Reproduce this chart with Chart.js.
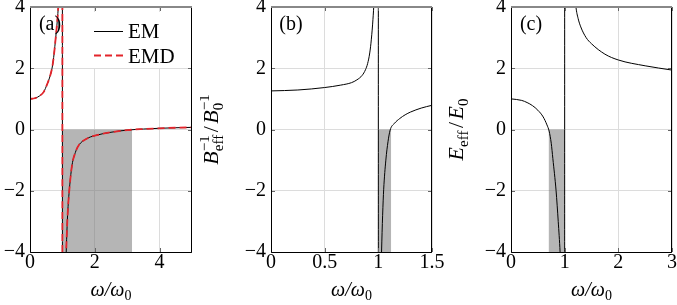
<!DOCTYPE html>
<html lang="en">
<head>
<meta charset="UTF-8" />
<title>Effective parameters vs frequency</title>
<script src="https://cdn.jsdelivr.net/npm/chart.js@4.4.0/dist/chart.umd.min.js"></script>
<style>
  body { margin: 0; background: #fff; }
  .panel { position: absolute; top: 0; height: 305px; }
  #wrapA { left: 0; width: 200px; }
  #wrapB { left: 200px; width: 252px; }
  #wrapC { left: 440px; width: 237px; }
</style>
</head>
<body>
<div class="panel" id="wrapA"><canvas id="chartA"></canvas></div>
<div class="panel" id="wrapB"><canvas id="chartB"></canvas></div>
<div class="panel" id="wrapC"><canvas id="chartC"></canvas></div>

<script>
// shared y axis
const yTicks = [-4, -2, 0, 2, 4];
const poleX = [1, 1];
const poleY = [-4, 4];

// (a) B_eff^-1 / B_0^-1, EM and EMD
const aTicksX = [0, 2, 4];
const aEmLeftX = [0, 0.15, 0.3, 0.42, 0.53, 0.6, 0.68, 0.73, 0.78, 0.83, 0.87, 0.9];
const aEmLeftY = [1, 1.02, 1.1, 1.22, 1.48, 1.68, 2.0, 2.35, 2.85, 3.4, 3.95, 4.6];
const aEmRightX = [1.1, 1.13, 1.16, 1.22, 1.3, 1.4, 1.5, 1.75, 2, 2.5, 3, 3.5, 4, 4.5, 5];
const aEmRightY = [-4.6, -3.6, -2.8, -1.9, -1.15, -0.75, -0.52, -0.3, -0.2, -0.09, -0.02, 0.015, 0.04, 0.057, 0.07];
const aEmdLeftY = [1, 1.02, 1.1, 1.22, 1.48, 1.68, 2.0, 2.35, 2.85, 3.4, 3.95, 4.6];
const aEmdRightY = [-4.6, -3.6, -2.8, -1.9, -1.15, -0.75, -0.52, -0.3, -0.2, -0.09, -0.02, 0.015, 0.04, 0.057, 0.07];
const aShadeX = [1, 3.15];

// (b) B_eff^-1 / B_0^-1
const bTicksX = [0, 0.5, 1, 1.5];
const bLeftX = [0, 0.25, 0.5, 0.65, 0.75, 0.8, 0.85, 0.88, 0.9, 0.92, 0.935, 0.95, 0.96, 0.97];
const bLeftY = [1.26, 1.29, 1.37, 1.45, 1.53, 1.62, 1.77, 1.95, 2.15, 2.5, 2.95, 3.6, 4.2, 5.0];
const bRightX = [1.02, 1.03, 1.04, 1.05, 1.07, 1.09, 1.11, 1.15, 1.2, 1.25, 1.3, 1.4, 1.5];
const bRightY = [-5.5, -4, -2.8, -1.95, -1.0, -0.4, -0.02, 0.2, 0.36, 0.48, 0.57, 0.7, 0.79];
const bShadeX = [1, 1.12];

// (c) E_eff / E_0
const cTicksX = [0, 1, 2, 3];
const cLeftX = [0, 0.2, 0.3, 0.4, 0.5, 0.6, 0.67, 0.71, 0.75, 0.78, 0.84, 0.88, 0.915, 0.935];
const cLeftY = [1, 0.95, 0.88, 0.78, 0.63, 0.41, 0.15, -0.05, -0.45, -0.95, -2.0, -3.0, -4.0, -4.8];
const cRightX = [1.19, 1.21, 1.25, 1.3, 1.4, 1.5, 1.75, 2, 2.5, 3];
const cRightY = [4.4, 4.0, 3.63, 3.35, 3.0, 2.8, 2.46, 2.27, 2.08, 1.94];
const cShadeX = [0.7, 1];

const FONT = '"Liberation Serif", "DejaVu Serif", serif';
const RED = '#e3242b';

function pts(xs, ys) {
  return xs.map((x, i) => ({ x: x, y: ys[i] }));
}

function curve(xs, ys, extra) {
  return Object.assign({
    data: pts(xs, ys),
    borderColor: '#000',
    borderWidth: 1,
    pointRadius: 0,
    fill: false,
    cubicInterpolationMode: 'monotone',
    order: 2
  }, extra || {});
}

function shade(xs) {
  return {
    data: pts(xs, xs.map(() => 0)),
    borderWidth: 0,
    borderColor: 'rgba(0,0,0,0)',
    backgroundColor: 'rgba(120,120,120,0.55)',
    pointRadius: 0,
    fill: 'start',
    order: 5
  };
}

// draws text made of groups; items inside a group share the same x (sup + sub)
function drawRich(ctx, groups, x, y, rot) {
  const fontOf = (p) => (p.italic ? 'italic ' : '') + p.size + 'px ' + FONT;
  let total = 0;
  groups.forEach(g => {
    g.w = 0;
    g.forEach(p => {
      ctx.font = fontOf(p);
      g.w = Math.max(g.w, ctx.measureText(p.t).width + (p.gap || 0));
    });
    total += g.w;
  });
  ctx.save();
  ctx.translate(x, y);
  ctx.rotate(rot || 0);
  ctx.fillStyle = '#000';
  ctx.textBaseline = 'alphabetic';
  ctx.textAlign = 'left';
  let cx = -total / 2;
  groups.forEach(g => {
    g.forEach(p => {
      ctx.font = fontOf(p);
      ctx.fillText(p.t, cx + (p.gap || 0) / 2, p.dy || 0);
    });
    cx += g.w;
  });
  ctx.restore();
}

const xTitle = [
  [{ t: 'ω/ω', size: 20, italic: true }],
  [{ t: '0', size: 14, dy: 4 }]
];

const framePlugin = {
  id: 'frame',
  afterDatasetsDraw(chart) {
    const { ctx, chartArea: a, scales } = chart;
    ctx.save();
    // small inward ticks like pgfplots
    ctx.strokeStyle = '#666';
    ctx.lineWidth = 1;
    ctx.beginPath();
    scales.x.ticks.forEach(t => {
      const px = Math.round(scales.x.getPixelForValue(t.value)) + 0.5;
      ctx.moveTo(px, a.bottom); ctx.lineTo(px, a.bottom - 4);
      ctx.moveTo(px, a.top); ctx.lineTo(px, a.top + 4);
    });
    scales.y.ticks.forEach(t => {
      const py = Math.round(scales.y.getPixelForValue(t.value)) + 0.5;
      ctx.moveTo(a.left, py); ctx.lineTo(a.left + 4, py);
      ctx.moveTo(a.right, py); ctx.lineTo(a.right - 4, py);
    });
    ctx.stroke();
    // frame
    ctx.strokeStyle = '#000';
    ctx.beginPath();
    ctx.moveTo(a.left + 0.5, a.top);
    ctx.lineTo(a.left + 0.5, a.bottom + 0.5);
    ctx.lineTo(a.right - 0.5, a.bottom + 0.5);
    ctx.lineTo(a.right - 0.5, a.top);
    ctx.stroke();
    ctx.strokeStyle = '#888';
    ctx.lineWidth = 2;
    ctx.beginPath();
    ctx.moveTo(a.left, a.top);
    ctx.lineTo(a.right, a.top);
    ctx.stroke();
    ctx.restore();
  },
  afterDraw(chart) {
    const { ctx, chartArea: a } = chart;
    const o = chart.options.plugins.frame;
    drawRich(ctx, xTitle, (a.left + a.right) / 2, 296, 0);
    ctx.save();
    ctx.font = '20px ' + FONT;
    ctx.fillStyle = '#000';
    ctx.textAlign = 'center';
    ctx.textBaseline = 'middle';
    ctx.fillText(o.tag, a.left + 20, 25);
    ctx.restore();
    if (o.yTitle) drawRich(ctx, o.yTitle, a.left - o.yTitleOffset, (a.top + a.bottom) / 2, -Math.PI / 2);
    if (o.legend) {
      ctx.save();
      ctx.fillStyle = '#fff';
      ctx.fillRect(89, 12, 100, 56);
      ctx.lineWidth = 1;
      ctx.strokeStyle = '#000';
      ctx.beginPath(); ctx.moveTo(94, 31.5); ctx.lineTo(123, 31.5); ctx.stroke();
      ctx.lineWidth = 1.8;
      ctx.strokeStyle = RED;
      ctx.setLineDash([7, 4]);
      ctx.beginPath(); ctx.moveTo(94, 55.5); ctx.lineTo(124, 55.5); ctx.stroke();
      ctx.setLineDash([]);
      ctx.fillStyle = '#000';
      ctx.font = '21px ' + FONT;
      ctx.textBaseline = 'middle';
      ctx.fillText('EM', 128, 32);
      ctx.fillText('EMD', 128, 57);
      ctx.restore();
    }
  }
};

const fmt = v => String(v).replace('-', '−');

function makePanel(id, cfg) {
  return new Chart(document.getElementById(id), {
    type: 'line',
    data: { datasets: cfg.datasets },
    options: {
      responsive: true,
      maintainAspectRatio: false,
      animation: false,
      layout: { padding: { top: 7, right: cfg.padRight, left: 0, bottom: 0 } },
      plugins: {
        legend: { display: false },
        tooltip: { enabled: false },
        frame: cfg.frame
      },
      scales: {
        x: {
          type: 'linear',
          min: cfg.xMin,
          max: cfg.xMax,
          afterFit: s => { s.height = 53; s.paddingLeft = 0; s.paddingRight = 0; },
          afterBuildTicks: s => { s.ticks = cfg.xTicks.map(v => ({ value: v })); },
          grid: { color: '#dcdcdc', drawTicks: false },
          border: { display: false },
          ticks: { autoSkip: false, maxRotation: 0, padding: -1, color: '#000', font: { family: FONT, size: 20 }, callback: fmt }
        },
        y: {
          type: 'linear',
          min: -4,
          max: 4,
          afterFit: s => { s.width = cfg.yWidth; s.paddingTop = 0; s.paddingBottom = 0; },
          afterBuildTicks: s => { s.ticks = yTicks.map(v => ({ value: v })); },
          grid: { color: '#dcdcdc', drawTicks: false },
          border: { display: false },
          ticks: { autoSkip: false, padding: 5, color: '#000', font: { family: FONT, size: 20 }, callback: fmt }
        }
      }
    },
    plugins: [framePlugin]
  });
}

makePanel('chartA', {
  xMin: 0, xMax: 5, xTicks: aTicksX, yWidth: 30, padRight: 8,
  frame: { tag: '(a)', legend: true },
  datasets: [
    shade(aShadeX),
    curve(aEmLeftX, aEmLeftY),
    curve(poleX, poleY),
    curve(aEmRightX, aEmRightY),
    curve(aEmLeftX, aEmdLeftY, { borderColor: RED, borderWidth: 1.8, borderDash: [7, 4], order: 1 }),
    curve(poleX, poleY, { borderColor: RED, borderWidth: 1.8, borderDash: [7, 4], order: 1 }),
    curve(aEmRightX, aEmdRightY, { borderColor: RED, borderWidth: 1.8, borderDash: [7, 4], order: 1 })
  ]
});

makePanel('chartB', {
  xMin: 0, xMax: 1.5, xTicks: bTicksX, yWidth: 71, padRight: 20,
  frame: {
    tag: '(b)', yTitleOffset: 53,
    yTitle: [
      [{ t: 'B', size: 22, italic: true }],
      [{ t: '−1', size: 15, dy: -9 }, { t: 'eff', size: 15, dy: 5 }],
      [{ t: '/', size: 22, gap: 5 }],
      [{ t: 'B', size: 22, italic: true }],
      [{ t: '−1', size: 15, dy: -9 }, { t: '0', size: 15, dy: 5 }]
    ]
  },
  datasets: [
    shade(bShadeX),
    curve(bLeftX, bLeftY),
    curve(poleX, poleY),
    curve(bRightX, bRightY)
  ]
});

makePanel('chartC', {
  xMin: 0, xMax: 3, xTicks: cTicksX, yWidth: 71, padRight: 5,
  frame: {
    tag: '(c)', yTitleOffset: 48,
    yTitle: [
      [{ t: 'E', size: 22, italic: true }],
      [{ t: 'eff', size: 15, dy: 5 }],
      [{ t: '/', size: 22, gap: 5 }],
      [{ t: 'E', size: 22, italic: true }],
      [{ t: '0', size: 15, dy: 5 }]
    ]
  },
  datasets: [
    shade(cShadeX),
    curve(cLeftX, cLeftY),
    curve(poleX, poleY),
    curve(cRightX, cRightY)
  ]
});
</script>
</body>
</html>
